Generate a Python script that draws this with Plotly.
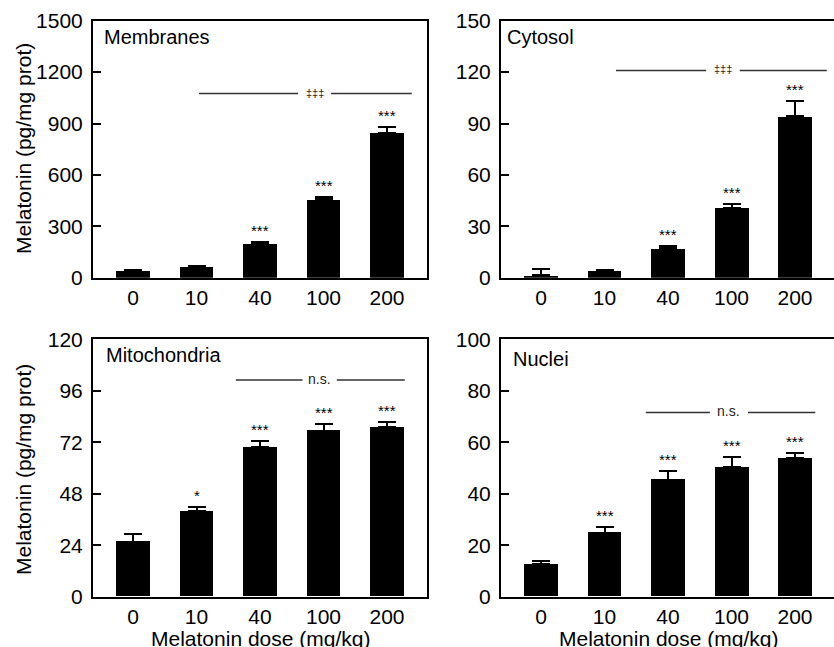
import plotly.graph_objects as go

W, H = 834, 647

doses = ["0", "10", "40", "100", "200"]

membranes_mean = [40, 62, 198, 458, 846]
membranes_sem = [7, 5, 12, 15, 33]
membranes_sig = ["", "", "***", "***", "***"]

cytosol_mean = [1.4, 3.9, 17.1, 40.9, 94.1]
cytosol_sem = [3.5, 0.8, 1.5, 2.4, 9.3]
cytosol_sig = ["", "", "***", "***", "***"]

mito_mean = [25.6, 39.9, 69.8, 77.4, 78.9]
mito_sem = [3.6, 1.7, 2.6, 3.1, 2.7]
mito_sig = ["", "*", "***", "***", "***"]

nuclei_mean = [12.6, 24.9, 45.5, 50.2, 53.9]
nuclei_sem = [1.2, 2.0, 3.2, 4.2, 1.9]
nuclei_sig = ["", "***", "***", "***", "***"]

# comparison brackets: [level, start, gap start, gap end, end] in axis units, label
membranes_cmp = [1075, 1.04, 2.60, 3.12, 4.39]
cytosol_cmp = [121, 1.18, 2.60, 3.13, 4.50]
mito_cmp = [101, 1.62, 2.67, 3.21, 4.28]
nuclei_cmp = [71.6, 1.65, 2.66, 3.26, 4.32]
cmp_labels = ["\u2021\u2021\u2021", "\u2021\u2021\u2021", "n.s.", "n.s."]

y_ranges = [[0, 1500], [0, 150], [0, 120], [0, 100]]
y_ticks = [[0, 300, 600, 900, 1200, 1500], [0, 30, 60, 90, 120, 150],
           [0, 24, 48, 72, 96, 120], [0, 20, 40, 60, 80, 100]]
panel_names = ["Membranes", "Cytosol", "Mitochondria", "Nuclei"]

FONT = "Liberation Sans, Arial, Helvetica, sans-serif"


def px(x):
    return x / W


def py(y):
    return 1 - y / H


panels = [
    dict(mean=membranes_mean, sem=membranes_sem, sig=membranes_sig, cmp=membranes_cmp,
         xd=[px(93), px(427)], yd=[py(277.7), py(20.7)], xr=[-0.63, 4.63], rmirror=True),
    dict(mean=cytosol_mean, sem=cytosol_sem, sig=cytosol_sig, cmp=cytosol_cmp,
         xd=[px(501), 1.0], yd=[py(277.7), py(20.7)], xr=[-0.63, 4.614], rmirror=False),
    dict(mean=mito_mean, sem=mito_sem, sig=mito_sig, cmp=mito_cmp,
         xd=[px(93), px(427)], yd=[py(596.7), py(339.3)], xr=[-0.63, 4.63], rmirror=True),
    dict(mean=nuclei_mean, sem=nuclei_sem, sig=nuclei_sig, cmp=nuclei_cmp,
         xd=[px(501), 1.0], yd=[py(596.7), py(339.3)], xr=[-0.63, 4.614], rmirror=False),
]

fig = go.Figure()
shapes = []
annotations = []
label_pos = [(102, 37), (505, 37), (104, 355), (511, 359)]

for i, p in enumerate(panels):
    n = "" if i == 0 else str(i + 1)
    xa, ya = "x" + n, "y" + n
    fig.add_trace(go.Bar(
        x=doses, y=p["mean"], xaxis=xa, yaxis=ya, width=0.535,
        marker=dict(color="black", line=dict(width=0)),
        error_y=dict(type="data", array=p["sem"], arrayminus=[0] * 5, symmetric=False,
                     color="black", thickness=2, width=9),
        showlegend=False, hoverinfo="skip",
    ))
    fig.layout["xaxis" + n] = dict(
        domain=p["xd"], anchor=ya, type="category", range=p["xr"],
        showline=True, linecolor="black", linewidth=2, mirror=True,
        ticks="", showgrid=False, zeroline=False, automargin=False,
        tickfont=dict(family=FONT, size=21, color="black"),
    )
    fig.layout["yaxis" + n] = dict(
        domain=p["yd"], anchor=xa, range=y_ranges[i], tickvals=y_ticks[i],
        showline=True, linecolor="black", linewidth=2, mirror=p["rmirror"],
        ticks="inside", ticklen=8, tickwidth=2, tickcolor="black",
        showgrid=False, zeroline=False, ticklabelstandoff=4, automargin=False,
        tickfont=dict(family=FONT, size=21, color="black"),
    )
    # stars
    for j, s in enumerate(p["sig"]):
        if s:
            annotations.append(dict(
                x=j, y=p["mean"][j] + p["sem"][j], xref=xa, yref=ya, text=s,
                showarrow=False, yanchor="bottom", yshift=1,
                font=dict(family=FONT, size=15, color="black"),
            ))
    # comparison bracket
    lvl, a, g0, g1, b = p["cmp"]
    for x0, x1 in [(a, g0), (g1, b)]:
        shapes.append(dict(type="line", xref=xa, yref=ya, x0=x0, x1=x1, y0=lvl, y1=lvl,
                           line=dict(color="#333333", width=1.5)))
    annotations.append(dict(
        x=(g0 + g1) / 2, y=lvl, xref=xa, yref=ya, text=cmp_labels[i], showarrow=False,
        yanchor="middle", yshift=1,
        font=dict(family=FONT, size=14 if cmp_labels[i] == "n.s." else 11, color="#222222"),
    ))
    # panel name
    lx, ly = label_pos[i]
    annotations.append(dict(
        x=px(lx), y=py(ly), xref="paper", yref="paper", text=panel_names[i],
        showarrow=False, xanchor="left", yanchor="middle",
        font=dict(family=FONT, size=20, color="black"),
    ))

# axis titles
for yc in [149, 470]:
    annotations.append(dict(
        x=px(23), y=py(yc), xref="paper", yref="paper", text="Melatonin (pg/mg prot)",
        textangle=-90, showarrow=False, xanchor="center", yanchor="middle",
        font=dict(family=FONT, size=21, color="black"),
    ))
for xc in [260, 668]:
    annotations.append(dict(
        x=px(xc), y=py(638), xref="paper", yref="paper", text="Melatonin dose (mg/kg)",
        showarrow=False, xanchor="center", yanchor="middle",
        font=dict(family=FONT, size=21, color="black"),
    ))

fig.update_layout(
    width=W, height=H, margin=dict(l=0, r=0, t=0, b=0, autoexpand=False),
    paper_bgcolor="white", plot_bgcolor="white",
    shapes=shapes, annotations=annotations, bargap=0,
    font=dict(family=FONT, color="black"),
)

fig.write_html("out.html")
